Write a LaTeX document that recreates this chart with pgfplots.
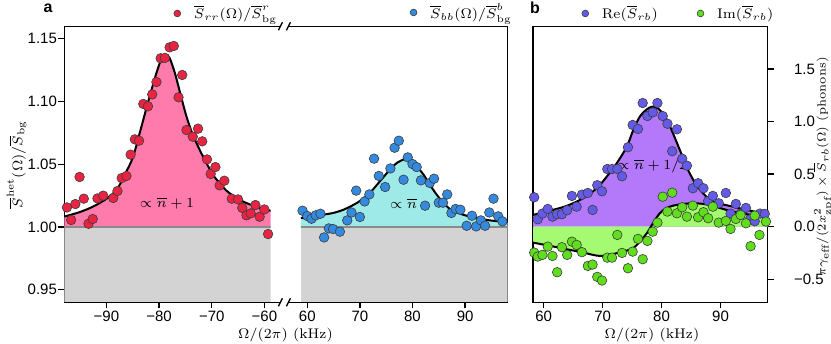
\documentclass[border=0pt]{standalone}
\usepackage{fontspec}
\newfontfamily\sans{Liberation Sans}
\usepackage{pgfplots}
\usepackage{pgfplotstable}
\pgfplotsset{compat=1.18}
\usepgfplotslibrary{fillbetween}

\definecolor{pinkfill}{RGB}{255,123,172}
\definecolor{redm}{RGB}{232,36,66}
\definecolor{cyanfill}{RGB}{158,234,232}
\definecolor{bluem}{RGB}{52,138,222}
\definecolor{purplefill}{RGB}{180,120,250}
\definecolor{purplem}{RGB}{100,90,232}
\definecolor{greenfill}{RGB}{164,250,112}
\definecolor{greenm}{RGB}{96,222,30}
\definecolor{bggray}{RGB}{211,211,211}
\definecolor{linegray}{RGB}{138,138,138}
\definecolor{edgegray}{RGB}{60,60,60}

\newcommand\fs{\fontsize{7pt}{8.4pt}\selectfont}
\newcommand\ts{\fontsize{7.5bp}{9bp}\selectfont}

% measured data, panel a
\pgfplotstableread{
x y
-97.5 1.0156
-96.7 1.0056
-95.9 1.0183
-95.1 1.0399
-94.3 1.0226
-93.4 1.0026
-92.6 1.0064
-91.7 1.0228
-90.6 1.0250
-88.7 1.0231
-87.9 1.0287
-87.1 1.0390
-86.2 1.0407
-85.4 1.0577
-84.6 1.0699
-83.8 1.0688
-83.0 1.0981
-82.1 1.0962
-81.3 1.1057
-80.5 1.1156
-79.7 1.1345
-78.9 1.1348
-78.0 1.1432
-77.2 1.1443
-76.3 1.1034
-75.6 1.1212
-74.8 1.0773
-73.6 1.0720
-72.6 1.0784
-71.8 1.0683
-70.9 1.0539
-70.2 1.0423
-69.3 1.0478
-68.5 1.0332
-67.6 1.0369
-66.2 1.0226
-65.0 1.0220
-64.2 1.0152
-63.4 1.0093
-62.6 1.0109
-61.7 1.0175
-60.9 1.0082
-60.0 1.0140
-59.3 0.9944
-58.4 1.0210
}\rrdata

\pgfplotstableread{
x y
-98.0 1.0083
-95.0 1.0120
-92.5 1.0164
-90.0 1.0225
-88.0 1.0300
-86.5 1.0420
-85.0 1.0552
-83.5 1.0777
-82.0 1.1010
-80.5 1.1228
-79.5 1.1345
-78.7 1.1374
-78.0 1.1348
-77.0 1.1228
-76.0 1.1069
-74.8 1.0882
-73.6 1.0736
-72.3 1.0616
-71.0 1.0510
-69.8 1.0417
-68.5 1.0351
-67.2 1.0290
-65.3 1.0231
-63.4 1.0191
-60.9 1.0152
-58.8 1.0130
}\rrfit

\pgfplotstableread{
x y
59.1 1.0130
60.0 1.0088
60.8 1.0066
61.6 1.0093
62.5 1.0106
63.2 0.9917
64.1 0.9989
64.9 0.9984
66.2 0.9963
67.6 1.0053
68.4 1.0116
69.3 1.0290
70.0 1.0080
70.9 1.0204
71.8 1.0260
72.7 1.0545
73.6 1.0407
74.8 1.0319
75.8 1.0467
76.6 1.0632
77.4 1.0688
78.3 1.0377
79.1 1.0555
80.0 1.0502
80.8 1.0478
81.6 1.0372
82.4 1.0170
83.3 1.0351
84.1 1.0385
85.0 1.0194
85.8 1.0194
86.6 1.0260
87.4 1.0112
88.2 1.0144
89.1 1.0138
90.3 1.0010
91.3 1.0090
92.1 1.0005
93.0 1.0053
93.8 1.0010
94.6 1.0116
95.4 1.0226
96.3 1.0085
97.1 1.0045
}\bbdata

\pgfplotstableread{
x y
58.8 1.0072
61.0 1.0085
63.0 1.0098
65.0 1.0113
67.0 1.0140
69.4 1.0191
71.0 1.0240
71.9 1.0271
73.8 1.0364
75.7 1.0457
77.0 1.0510
78.6 1.0542
79.5 1.0529
80.8 1.0483
82.1 1.0417
83.3 1.0337
84.6 1.0258
85.9 1.0191
87.1 1.0144
88.4 1.0116
90.3 1.0090
92.2 1.0072
94.7 1.0053
97.3 1.0042
98.1 1.0040
}\bbfit

% panel b
\pgfplotstableread{
x y
58.4 0.279
59.0 0.070
59.8 0.124
60.7 0.168
61.5 0.095
62.3 0.118
63.1 0.118
64.0 0.156
64.8 0.292
65.6 0.190
66.5 0.304
67.5 0.320
68.3 0.159
69.1 0.394
69.9 0.336
70.8 0.548
71.6 0.548
72.5 0.548
73.3 0.479
74.3 0.755
75.1 0.967
76.0 0.929
76.8 1.176
77.6 1.052
78.5 1.087
79.3 1.176
80.2 1.052
81.0 0.979
81.8 0.717
82.6 0.926
83.5 0.646
84.3 0.580
85.3 0.365
86.2 0.413
87.1 0.365
87.9 0.244
88.7 0.292
89.7 0.222
90.9 0.320
91.7 0.124
92.6 0.216
93.4 0.124
94.3 0.178
95.0 0.070
95.8 0.051
96.7 0.124
97.5 0.121
}\redata

\pgfplotstableread{
x y
58.2 0.111
61.07 0.152
63.9 0.197
66.7 0.270
69.0 0.365
70.7 0.475
72.4 0.603
74.1 0.760
75.2 0.919
76.3 1.046
77.5 1.116
78.4 1.141
79.4 1.125
80.6 1.046
81.7 0.919
83.1 0.729
84.5 0.539
85.9 0.396
87.6 0.285
89.3 0.228
92.1 0.190
95.0 0.152
96.7 0.133
98.0 0.125
}\refit

\pgfplotstableread{
x y
58.4 -0.247
59.0 -0.285
59.8 -0.269
60.7 -0.190
61.5 -0.279
62.3 -0.434
63.1 -0.196
64.0 -0.269
64.8 -0.143
65.6 -0.174
66.5 -0.243
67.5 -0.374
68.3 -0.361
69.1 -0.478
69.9 -0.513
70.8 -0.295
71.6 -0.295
72.5 -0.079
73.3 -0.250
74.3 -0.396
75.1 -0.238
76.0 -0.117
76.8 -0.310
77.6 -0.136
78.5 -0.048
79.3 0.038
80.2 0.285
81.0 0.143
81.8 0.323
82.6 0.127
83.5 0.184
84.3 0.095
85.3 0.200
86.2 0.089
87.1 0.137
87.9 0.080
88.7 0.190
89.7 0.038
90.9 0.054
91.7 -0.022
92.6 0.073
93.4 0.111
94.3 0.032
95.1 -0.186
95.8 0.105
96.6 -0.079
97.7 0.048
}\imdata

\pgfplotstableread{
x y
58.2 -0.152
61.07 -0.183
63.9 -0.215
66.7 -0.247
69.5 -0.279
71.8 -0.260
73.5 -0.238
75.2 -0.205
76.3 -0.143
77.5 -0.063
78.6 0.038
79.7 0.127
80.8 0.175
82.0 0.200
83.7 0.216
85.4 0.222
87.1 0.216
88.7 0.197
91.0 0.159
93.3 0.127
95.5 0.111
96.7 0.108
98.0 0.105
}\imfit

\pgfplotsset{
  panel/.style={
    scale only axis, height=138bp,
    axis line style={line width=0.65bp},
    tick align=outside, major tick length=3bp,
    every tick/.style={black, line width=0.65bp},
    tick label style={font=\ts\sans},
    xticklabel style={inner sep=1bp},
    xtick pos=left,
    legend style={draw=none, fill=none, at={(1,1)}, anchor=south east,
      inner sep=0pt, font=\fs, legend cell align=left,
      nodes={inner sep=0.6bp},
      /tikz/every odd column/.append style={column sep=6bp},
      /tikz/every even column/.append style={column sep=19bp}},
    legend image code/.code={\draw[##1, mark size=1.7bp] plot coordinates {(0bp,0bp)};},
  },
  dots/.style={only marks, mark=*, mark size=2.4bp,
    mark options={draw=edgegray, line width=0.3bp, fill=#1}},
  fit/.style={black, line width=1bp, smooth, forget plot},
}

\begin{document}
\begin{tikzpicture}

% panel a, negative frequencies
\begin{axis}[panel, name=al, at={(32.15bp,20.85bp)}, anchor=south west,
  width=103.2bp, xmin=-98, xmax=-58.8, ymin=0.94, ymax=1.16,
  axis y line*=left,
  xtick={-90,-80,-70,-60}, xticklabels={−90,−80,−70,−60},
  ytick={0.95,1,1.05,1.1,1.15}, yticklabels={0.95,1.00,1.05,1.10,1.15},
  yticklabel style={inner sep=0.5bp},
  legend style={xshift=4bp, yshift=1.5bp}]
\addplot[forget plot, draw=none, fill=bggray] coordinates {(-98,0.94) (-58.8,0.94) (-58.8,1) (-98,1)} -- cycle;
\addplot[forget plot, draw=none, name path=rr, smooth] table {\rrfit};
\addplot[forget plot, draw=none, name path=base] coordinates {(-98,1) (-58.8,1)};
\addplot[forget plot, fill=pinkfill] fill between[of=rr and base];
\addplot[forget plot, linegray, line width=1bp] coordinates {(-98,1) (-58.8,1)};
\addplot[fit] table {\rrfit};
\node[font=\fs] at (axis cs:-78.5,1.019) {$\propto\overline{n}+1$};
\addplot[dots=redm] table {\rrdata};
\addlegendentry{$\overline{S}_{rr}(\Omega)/\overline{S}^{r}_{\mathrm{bg}}$}
\end{axis}

% panel a, positive frequencies
\begin{axis}[panel, name=ar, at={(150.35bp,20.85bp)}, anchor=south west,
  width=103.5bp, xmin=58.75, xmax=98.1, ymin=0.94, ymax=1.16,
  axis y line*=right, ytick=\empty,
  xtick={60,70,80,90}, xticklabels={60,70,80,90},
  legend style={xshift=2.9bp, yshift=1.5bp}]
\addplot[forget plot, draw=none, fill=bggray] coordinates {(58.75,0.94) (98.1,0.94) (98.1,1) (58.75,1)} -- cycle;
\addplot[forget plot, draw=none, name path=bb, smooth] table {\bbfit};
\addplot[forget plot, draw=none, name path=base] coordinates {(58.75,1) (98.1,1)};
\addplot[forget plot, fill=cyanfill] fill between[of=bb and base];
\addplot[forget plot, linegray, line width=1bp] coordinates {(58.75,1) (98.1,1)};
\addplot[fit] table {\bbfit};
\node[font=\fs] at (axis cs:78.3,1.0186) {$\propto\overline{n}$};
\addplot[dots=bluem] table {\bbdata};
\addlegendentry{$\overline{S}_{bb}(\Omega)/\overline{S}^{b}_{\mathrm{bg}}$}
\end{axis}

% panel b
\begin{axis}[panel, name=ab, at={(266.5bp,20.85bp)}, anchor=south west,
  width=117.35bp, xmin=58.2, xmax=98, ymin=-0.72, ymax=1.906,
  xtick={60,70,80,90}, xticklabels={60,70,80,90},
  ytick={-0.5,0,0.5,1,1.5}, yticklabels={−0.5,0.0,0.5,1.0,1.5},
  ytick pos=right, yticklabel pos=right,
  yticklabel style={inner sep=0.5bp, xshift=9.5bp},
  legend columns=2,
  legend style={xshift=3.6bp, yshift=1.5bp}]
\addplot[forget plot, draw=none, name path=re, smooth] table {\refit};
\addplot[forget plot, draw=none, name path=im, smooth] table {\imfit};
\addplot[forget plot, draw=none, name path=zero] coordinates {(58.2,0) (98,0)};
\addplot[forget plot, fill=purplefill] fill between[of=re and zero];
\addplot[forget plot, fill=greenfill] fill between[of=im and zero];
\addplot[fit] table {\refit};
\addplot[fit] table {\imfit};
\node[font=\fs] at (axis cs:78.4,0.577) {$\propto\overline{n}+1/2$};
\addplot[dots=purplem] table {\redata};
\addlegendentry{$\mathrm{Re}(\overline{S}_{rb})$}
\addplot[dots=greenm] table {\imdata};
\addlegendentry{$\mathrm{Im}(\overline{S}_{rb})$}
\end{axis}

% broken axis marks
\begin{scope}[line width=0.65bp]
\draw (al.north east) -- ++(5.2bp,0);
\draw (al.south east) -- ++(5.2bp,0);
\draw (ar.north west) -- ++(-5.8bp,0);
\draw (ar.south west) -- ++(-5.8bp,0);
\foreach \xx in {140.2,144.2} {
  \draw (\xx bp-1bp,18.85bp) -- (\xx bp+1bp,22.85bp);
  \draw (\xx bp-1bp,156.85bp) -- (\xx bp+1bp,160.85bp);
}
\end{scope}

% labels
\node[font=\fs] at (142.75bp,4.5bp) {$\Omega/(2\pi)$ (kHz)};
\node[font=\fs] at (326bp,4.5bp) {$\Omega/(2\pi)$ (kHz)};
\node[font=\fs, rotate=90] at (8.3bp,89.75bp) {$\overline{S}^{\mathrm{het}}(\Omega)/\overline{S}_{\mathrm{bg}}$};
\node[font=\fontsize{6pt}{7.2pt}\selectfont, rotate=90] at (411.6bp,88.5bp) {$\pi\gamma_{\mathrm{eff}}/(2x^2_{\mathrm{zpf}})\times\overline{S}_{rb}(\Omega)$ (phonons)};
\node[font=\fontsize{8bp}{9bp}\sans\bfseries] at (24bp,168bp) {a};
\node[font=\fontsize{8bp}{9bp}\sans\bfseries] at (267.5bp,168bp) {b};

\pgfresetboundingbox
\useasboundingbox (0,0) rectangle (415.5bp,172bp);
\end{tikzpicture}
\end{document}
